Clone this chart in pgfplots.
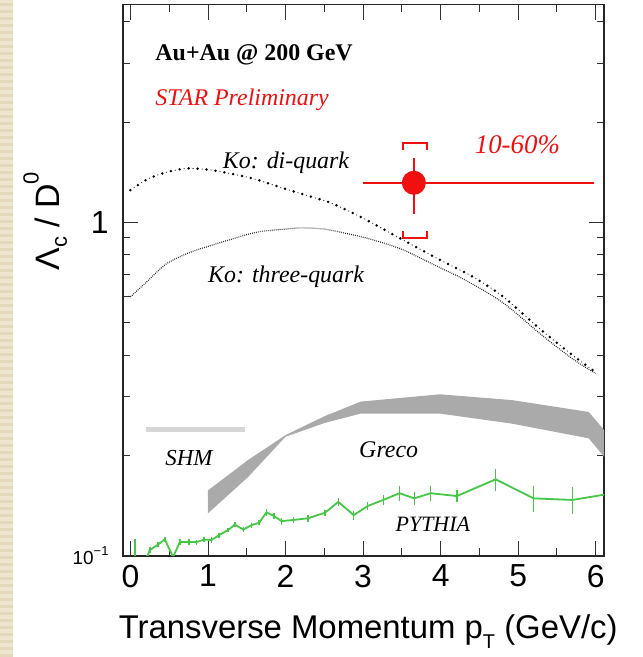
\documentclass[border=0pt]{standalone}
\usepackage{fontspec}
\setmainfont{Liberation Serif}
\setsansfont{Liberation Sans}
\usepackage{pgfplots}
\pgfplotsset{compat=1.18}

\definecolor{pythiagreen}{RGB}{70,200,70}
\definecolor{starred}{RGB}{240,16,16}
\definecolor{grecogray}{RGB}{170,170,170}
\definecolor{shmgray}{RGB}{214,214,214}
\definecolor{slidetan}{RGB}{238,229,207}
\definecolor{slidetandark}{RGB}{228,216,188}

% Ko di-quark curve
\pgfplotstableread{
x y
0 1.25
0.2 1.34
0.4 1.40
0.7 1.45
1.0 1.44
1.3 1.40
1.6 1.35
2.0 1.26
2.3 1.20
2.6 1.14
3.0 1.03
3.5 0.89
4.0 0.77
4.4 0.69
4.8 0.60
5.3 0.475
5.7 0.40
6.0 0.355
}\kodiquark

\begin{document}
\begin{tikzpicture}
\useasboundingbox (0,0) rectangle (643bp,657bp);
\fill[white] (0,0) rectangle (643bp,657bp);
% striped slide border on the left
\fill[slidetan] (0,0) rectangle (13bp,657bp);
\foreach \k in {0,...,93} {
  \fill[slidetandark] (0,\k*7bp) rectangle (13bp,\k*7bp+3bp);
}

\begin{axis}[
  at={(122.7bp,101.3bp)}, anchor=south west,
  scale only axis, width=481.3bp, height=551bp,
  ymode=log,
  xmin=-0.1, xmax=6.107, ymin=0.1, ymax=4.5,
  axis line style={line width=1.6bp, black!85},
  xtick={0,1,2,3,4,5,6},
  minor xtick={0.5,1.5,2.5,3.5,4.5,5.5},
  ytick={0.1,1},
  minor ytick={0.2,0.3,0.4,0.5,0.6,0.7,0.8,0.9,2,3,4},
  xtick pos=both, ytick pos=both,
  xticklabel pos=lower, yticklabel pos=left,
  tick align=inside,
  major tick length=15bp, minor tick length=7.5bp,
  every tick/.style={black!80, line width=0.9bp},
  xticklabels={0,1,2,3,4,5,6},
  yticklabels={{\fontsize{19}{19}\selectfont 10\raisebox{0.45em}{\fontsize{13}{13}\selectfont −1}},1},
  xticklabel style={font=\fontsize{32}{32}\selectfont\sffamily, inner sep=0pt, yshift=-9bp},
  yticklabel style={font=\fontsize{32}{32}\selectfont\sffamily, inner sep=0pt, xshift=-14bp},
  xlabel={Transverse Momentum p\raisebox{-0.32em}{\fontsize{20}{20}\selectfont T} (GeV/c)},
  xlabel style={font=\fontsize{33}{33}\selectfont\sffamily, at={(axis description cs:0.51,-0.138)}, anchor=center},
  ylabel={Λ\raisebox{-0.22em}{\fontsize{22}{22}\selectfont c} / D\raisebox{0.62em}{\fontsize{22}{22}\selectfont 0}},
  ylabel style={font=\fontsize{34}{34}\selectfont\sffamily, at={(axis description cs:-0.161,0.607)}, anchor=center},
]

% Greco coalescence band
\addplot[fill=grecogray, draw=none] coordinates {
  (1.0,0.157) (1.52,0.194) (2.0,0.230) (2.5,0.262) (2.97,0.290)
  (3.99,0.305) (4.92,0.293) (5.91,0.270) (6.11,0.238)
  (6.11,0.198) (5.91,0.225) (4.92,0.249) (3.99,0.267) (2.97,0.267)
  (2.5,0.250) (2.0,0.2275) (1.52,0.1725) (1.0,0.134)
};

% SHM
\addplot[shmgray, line width=5bp] coordinates {(0.205,0.239) (1.48,0.239)};

% Ko: di-quark, big and small dots alternating
\addplot[black, line width=2.8bp, smooth, line cap=round, dash pattern=on 0bp off 9bp] table {\kodiquark};
\addplot[black!80, line width=1.3bp, smooth, line cap=round, dash pattern=on 0bp off 9bp, dash phase=4.5bp] table {\kodiquark};

% Ko: three-quark
\addplot[black!85, line width=1.2bp, smooth, dash pattern=on 0.8bp off 1.2bp] coordinates {
  (0,0.598) (0.2,0.66) (0.46,0.75) (0.75,0.81) (1.02,0.85) (1.3,0.89)
  (1.63,0.935) (2.0,0.955) (2.2,0.963) (2.5,0.955) (2.8,0.925) (3.1,0.89)
  (3.5,0.83) (4.0,0.73) (4.3,0.675) (4.8,0.575) (5.3,0.46) (5.7,0.39) (6.0,0.352)
};

% PYTHIA
\addplot[pythiagreen, line width=1.8bp, mark=none,
  error bars/.cd, y dir=both, y explicit, error mark=none,
  error bar style={pythiagreen, line width=1.4bp}] coordinates {
  (0.06,0.094) +- (0,0.018)
  (0.21,0.0985) +- (0,0.002)
  (0.25,0.104) +- (0,0.002)
  (0.357,0.108) +- (0,0.002)
  (0.443,0.112) +- (0,0.002)
  (0.55,0.0990) +- (0,0.002)
  (0.637,0.110) +- (0,0.002)
  (0.757,0.110) +- (0,0.002)
  (0.85,0.1098) +- (0,0.002)
  (0.946,0.1117) +- (0,0.002)
  (1.045,0.1115) +- (0,0.002)
  (1.144,0.1153) +- (0,0.002)
  (1.26,0.1194) +- (0,0.002)
  (1.346,0.124) +- (0,0.002)
  (1.454,0.1198) +- (0,0.002)
  (1.561,0.1235) +- (0,0.002)
  (1.66,0.1256) +- (0,0.002)
  (1.755,0.135) +- (0,0.003)
  (1.85,0.1315) +- (0,0.003)
  (1.95,0.127) +- (0,0.003)
  (2.1,0.128) +- (0,0.003)
  (2.29,0.1295) +- (0,0.003)
  (2.51,0.1346) +- (0,0.003)
  (2.68,0.145) +- (0,0.004)
  (2.88,0.1324) +- (0,0.004)
  (3.06,0.141) +- (0,0.004)
  (3.26,0.147) +- (0,0.005)
  (3.47,0.154) +- (0,0.008)
  (3.66,0.1486) +- (0,0.007)
  (3.87,0.154) +- (0,0.008)
  (4.21,0.151) +- (0,0.006)
  (4.71,0.1695) +- (0,0.013)
  (5.2,0.1486) +- (0,0.013)
  (5.70,0.147) +- (0,0.014)
  (6.15,0.153) +- (0,0)
};

% STAR measurement: systematic brackets
\addplot[starred, line width=2bp] coordinates {(3.51,1.644) (3.51,1.726) (3.82,1.726) (3.82,1.644)};
\addplot[starred, line width=2bp] coordinates {(3.51,0.94) (3.51,0.895) (3.82,0.895) (3.82,0.94)};
% STAR measurement: point with statistical error and bin width
\addplot[starred, line width=2bp, mark=*, mark size=11bp, mark options={fill=starred, draw=starred},
  error bars/.cd, x dir=both, x explicit, y dir=both, y explicit, error mark=none,
  error bar style={starred, line width=2bp}] coordinates {
  (3.655,1.315) += (2.325,0.245) -= (0.655,0.258)
};

% annotations
\node[anchor=west, inner sep=0pt, font=\fontsize{24}{24}\selectfont\bfseries] at (axis cs:0.32,3.18) {Au+Au @ 200 GeV};
\node[anchor=west, inner sep=0pt, text=starred, font=\fontsize{24}{24}\selectfont\itshape] at (axis cs:0.32,2.33) {STAR Preliminary};
\node[inner sep=0pt, text=starred, font=\fontsize{27}{27}\selectfont\itshape] at (axis cs:4.99,1.706) {10-60\%};
\node[anchor=west, inner sep=0pt, font=\fontsize{24}{24}\selectfont\itshape] at (axis cs:1.19,1.51) {Ko: di-quark};
\node[anchor=west, inner sep=0pt, font=\fontsize{24}{24}\selectfont\itshape] at (axis cs:1.0,0.687) {Ko: three-quark};
\node[inner sep=0pt, font=\fontsize{23}{23}\selectfont\itshape] at (axis cs:0.755,0.197) {SHM};
\node[inner sep=0pt, font=\fontsize{24}{24}\selectfont\itshape] at (axis cs:3.33,0.2085) {Greco};
\node[inner sep=0pt, font=\fontsize{22}{22}\selectfont\itshape] at (axis cs:3.90,0.1245) {PYTHIA};
\end{axis}
\end{tikzpicture}
\end{document}
